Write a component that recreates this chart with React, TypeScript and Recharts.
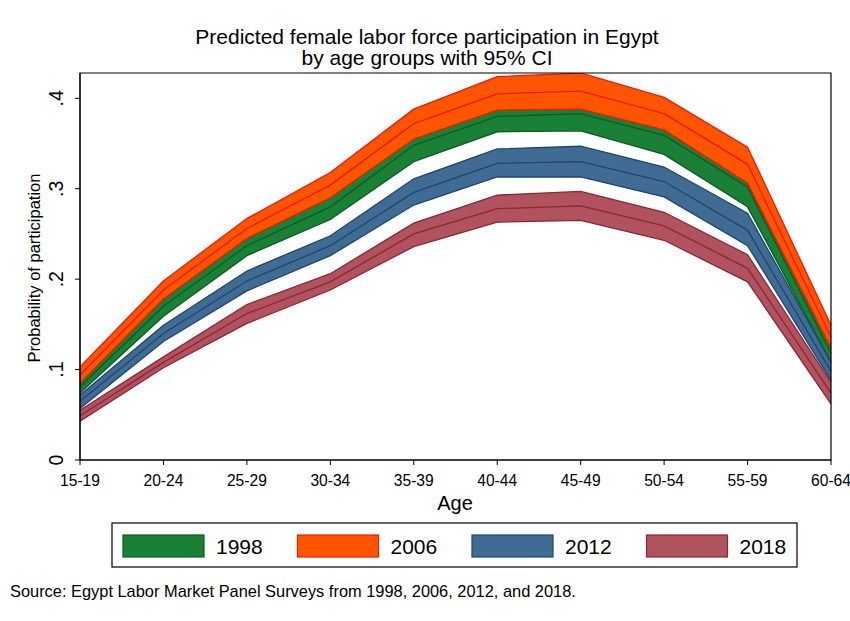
import React from 'react';
import { AreaChart, Area, XAxis, YAxis, ReferenceArea } from 'recharts';

const ages = ['15-19', '20-24', '25-29', '30-34', '35-39', '40-44', '45-49', '50-54', '55-59', '60-64'];
const yTicks = [0, 0.1, 0.2, 0.3, 0.4];

const lo1998 = [0.074, 0.159, 0.226, 0.266, 0.330, 0.363, 0.364, 0.338, 0.280, 0.108];
const mid1998 = [0.081, 0.170, 0.237, 0.280, 0.348, 0.380, 0.383, 0.359, 0.302, 0.118];
const hi1998 = [0.089, 0.180, 0.247, 0.294, 0.366, 0.397, 0.401, 0.378, 0.323, 0.128];

const lo2006 = [0.085, 0.178, 0.245, 0.290, 0.355, 0.387, 0.388, 0.365, 0.306, 0.124];
const mid2006 = [0.094, 0.188, 0.256, 0.304, 0.372, 0.405, 0.408, 0.383, 0.327, 0.136];
const hi2006 = [0.103, 0.198, 0.267, 0.318, 0.388, 0.424, 0.428, 0.401, 0.346, 0.149];

const lo2012 = [0.057, 0.131, 0.187, 0.226, 0.282, 0.313, 0.313, 0.291, 0.237, 0.088];
const mid2012 = [0.065, 0.140, 0.198, 0.237, 0.296, 0.328, 0.330, 0.308, 0.254, 0.098];
const hi2012 = [0.072, 0.149, 0.209, 0.248, 0.311, 0.344, 0.347, 0.324, 0.273, 0.108];

const lo2018 = [0.043, 0.102, 0.151, 0.188, 0.236, 0.263, 0.265, 0.243, 0.197, 0.062];
const mid2018 = [0.049, 0.108, 0.162, 0.197, 0.250, 0.278, 0.281, 0.259, 0.212, 0.074];
const hi2018 = [0.055, 0.114, 0.172, 0.206, 0.262, 0.293, 0.297, 0.274, 0.227, 0.086];

const series = [
  { key: '1998', lo: lo1998, mid: mid1998, hi: hi1998, fill: '#1a8036', line: '#0d5a24' },
  { key: '2006', lo: lo2006, mid: mid2006, hi: hi2006, fill: '#ff5500', line: '#f01800' },
  { key: '2012', lo: lo2012, mid: mid2012, hi: hi2012, fill: '#406b93', line: '#1d4670' },
  { key: '2018', lo: lo2018, mid: mid2018, hi: hi2018, fill: '#b0535e', line: '#8a2636' },
];

const data = ages.map((age, i) => {
  const row: any = { age };
  series.forEach(s => {
    row['b' + s.key] = [s.lo[i], s.hi[i]];
    row['lo' + s.key] = s.lo[i];
    row['mid' + s.key] = s.mid[i];
    row['hi' + s.key] = s.hi[i];
  });
  return row;
});

const FONT = '"Liberation Sans", Arial, Helvetica, sans-serif';

const YTick = ({ x, y, payload }: any) => {
  const label = payload.value === 0 ? '0' : String(payload.value).replace(/^0/, '');
  return (
    <text x={x - 10} y={y} transform={`rotate(-90 ${x - 10} ${y})`} textAnchor="middle"
      fontSize={19.5} fontFamily={FONT} fill="#000">{label}</text>
  );
};

export default function App() {
  return (
    <div style={{ position: 'absolute', left: 0, top: 0, width: 850, height: 621, background: '#fff', fontFamily: FONT }}>
      <AreaChart width={850} height={621} data={data} margin={{ top: 73, right: 19, left: 20, bottom: 121 }}>
        <XAxis dataKey="age" scale="point" padding={{ left: 0, right: 0 }} stroke="#000" tickSize={5} tickMargin={10}
          tick={{ fill: '#000', fontSize: 15.6, fontFamily: FONT }} height={40} interval={0} />
        <YAxis domain={[0, 0.428]} ticks={yTicks} allowDataOverflow stroke="#000" tickSize={5} width={60}
          tick={<YTick />} interval={0} />
        {series.map(s => [
          <Area key={'b' + s.key} type="linear" dataKey={'b' + s.key} fill={s.fill} fillOpacity={1} stroke="none"
            dot={false} activeDot={false} isAnimationActive={false} />,
          <Area key={'lo' + s.key} type="linear" dataKey={'lo' + s.key} fill="none" stroke={s.line} strokeWidth={1.3}
            dot={false} activeDot={false} isAnimationActive={false} />,
          <Area key={'mid' + s.key} type="linear" dataKey={'mid' + s.key} fill="none" stroke={s.line} strokeWidth={1.3}
            dot={false} activeDot={false} isAnimationActive={false} />,
          <Area key={'hi' + s.key} type="linear" dataKey={'hi' + s.key} fill="none" stroke={s.line} strokeWidth={1.3}
            dot={false} activeDot={false} isAnimationActive={false} />,
        ])}
        <ReferenceArea x1={ages[0]} x2={ages[ages.length - 1]} y1={0} y2={0.428} fill="none" stroke="#000" strokeWidth={1.2} />
      </AreaChart>

      <svg width={850} height={621} style={{ position: 'absolute', left: 0, top: 0, pointerEvents: 'none' }}>
        <text x={427} y={44} textAnchor="middle" fontSize={21} fontFamily={FONT}>Predicted female labor force participation in Egypt</text>
        <text x={427} y={65} textAnchor="middle" fontSize={21} fontFamily={FONT}>by age groups with 95% CI</text>
        <text x={40} y={268} transform="rotate(-90 40 268)" textAnchor="middle" fontSize={16.5} fontFamily={FONT}>Probability of participation</text>
        <text x={455} y={510} textAnchor="middle" fontSize={20} fontFamily={FONT}>Age</text>
        <rect x={112} y={523} width={685} height={44} fill="none" stroke="#000" strokeWidth={1.2} />
        {series.map((s, i) => (
          <g key={s.key}>
            <rect x={123 + i * 174.5} y={535} width={81} height={22} fill={s.fill} stroke={s.line} strokeWidth={1.2} />
            <text x={216 + i * 174.5} y={553.5} fontSize={21} fontFamily={FONT}>{s.key}</text>
          </g>
        ))}
        <text x={10} y={597} fontSize={16.4} fontFamily={FONT}>Source: Egypt Labor Market Panel Surveys from 1998, 2006, 2012, and 2018.</text>
      </svg>
    </div>
  );
}
